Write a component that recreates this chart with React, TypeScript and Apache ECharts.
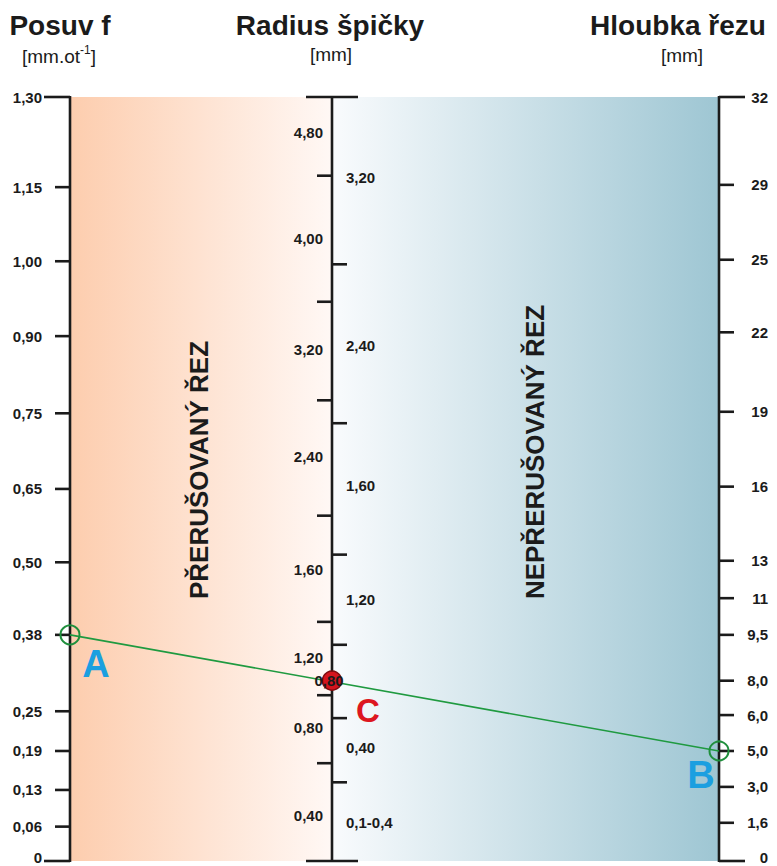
import React, { useEffect, useRef } from "react";
import * as echarts from "echarts";

// ---- Nomogram scales (position = % of axis height from bottom) ----
const LEFT_LABELS = ["1,30", "1,15", "1,00", "0,90", "0,75", "0,65", "0,50", "0,38", "0,25", "0,19", "0,13", "0,06", "0"];
const LEFT_POS = [100, 88.2, 78.5, 68.7, 58.6, 48.7, 39.1, 29.6, 19.6, 14.4, 9.3, 4.5, 0];

const MID_L_LABELS = ["4,80", "4,00", "3,20", "2,40", "1,60", "1,20", "0,80", "0,40"];
const MID_L_LABEL_POS = [95.3, 81.5, 66.9, 53.0, 38.1, 26.6, 17.5, 6.0];
const MID_L_TICK_POS = [89.7, 73.2, 60.3, 45.2, 31.3, 21.7, 12.8];

const MID_R_LABELS = ["3,20", "2,40", "1,60", "1,20", "0,80", "0,40", "0,1-0,4"];
const MID_R_LABEL_POS = [89.5, 67.5, 49.1, 34.2, 23.6, 14.8, 5.1];
const MID_R_TICK_POS = [78.1, 57.3, 40.1, 28.3, 18.7, 10.3];

const RIGHT_LABELS = ["32", "29", "25", "22", "19", "16", "13", "11", "9,5", "8,0", "6,0", "5,0", "3,0", "1,6", "0"];
const RIGHT_POS = [100, 88.5, 78.7, 69.2, 58.8, 49.0, 39.3, 34.4, 29.6, 23.6, 19.1, 14.4, 9.7, 5.0, 0];

// Selected example
const SEL_FEED = "0,38"; // A
const SEL_DEPTH = "5,0"; // B
const SEL_RADIUS = "0,80"; // C (right side of middle scale)

const TITLES = ["Posuv f", "Radius špičky", "Hloubka řezu"];
const REGION_LEFT = "PŘERUŠOVANÝ ŘEZ";
const REGION_RIGHT = "NEPŘERUŠOVANÝ ŘEZ";

// axis x-positions on the hidden 0..1 x scale
const AX_L = 0;
const AX_M = 262 / 649;
const AX_R = 1;

const FONT = "'Liberation Sans', Arial, sans-serif";
const INK = "#1b1b1b";

export default function App() {
  const ref = useRef<HTMLDivElement>(null);

  useEffect(() => {
    if (!ref.current) return;
    const chart = echarts.init(ref.current, undefined, { renderer: "svg" });

    const posA = LEFT_POS[LEFT_LABELS.indexOf(SEL_FEED)];
    const posB = RIGHT_POS[RIGHT_LABELS.indexOf(SEL_DEPTH)];
    const posC = MID_R_LABEL_POS[MID_R_LABELS.indexOf(SEL_RADIUS)];

    // ticks: [x, pos, side(-1 left, 1 right, 0 both), long]
    const ticks: number[][] = [];
    LEFT_POS.forEach((p, i) => ticks.push([AX_L, p, -1, i === 0 || i === LEFT_POS.length - 1 ? 1 : 0]));
    MID_L_TICK_POS.forEach((p) => ticks.push([AX_M, p, -1, 0]));
    MID_R_TICK_POS.forEach((p) => ticks.push([AX_M, p, 1, 0]));
    ticks.push([AX_M, 100, 0, 1]);
    ticks.push([AX_M, 0, 0, 1]);
    RIGHT_POS.forEach((p, i) => ticks.push([AX_R, p, 1, i === 0 || i === RIGHT_POS.length - 1 ? 1 : 0]));

    type Lab = { x: number; pos: number; text: string; mode: string };
    const labels: Lab[] = [];
    LEFT_LABELS.forEach((t, i) => labels.push({ x: AX_L, pos: LEFT_POS[i], text: t, mode: "L" }));
    MID_L_LABELS.forEach((t, i) => labels.push({ x: AX_M, pos: MID_L_LABEL_POS[i], text: t, mode: "ML" }));
    MID_R_LABELS.forEach((t, i) =>
      labels.push({ x: AX_M, pos: MID_R_LABEL_POS[i], text: t, mode: t === SEL_RADIUS ? "C" : "MR" })
    );
    RIGHT_LABELS.forEach((t, i) => labels.push({ x: AX_R, pos: RIGHT_POS[i], text: t, mode: "R" }));

    const letters = [
      { name: "A", x: AX_L, pos: posA, dx: 26, dy: 29, color: "#1b9fe0", size: 38 },
      { name: "C", x: AX_M, pos: posC, dx: 36, dy: 30, color: "#dd1620", size: 33 },
      { name: "B", x: AX_R, pos: posB, dx: -18, dy: 24, color: "#1b9fe0", size: 38 },
    ];

    const bandGrad = [
      new echarts.graphic.LinearGradient(0, 0, 1, 0, [
        { offset: 0, color: "#fdcdae" },
        { offset: 1, color: "#fff8f5" },
      ]),
      new echarts.graphic.LinearGradient(0, 0, 1, 0, [
        { offset: 0, color: "#f9fbfd" },
        { offset: 1, color: "#9ec6d3" },
      ]),
    ];

    const option: any = {
      animation: false,
      grid: { left: 70, right: 58, top: 97, bottom: 5, containLabel: false },
      xAxis: { type: "value", min: 0, max: 1, show: false },
      yAxis: { type: "value", min: 0, max: 100, show: false },
      graphic: [
        { type: "text", x: 60, y: 25, style: { text: TITLES[0], font: `bold 28px ${FONT}`, fill: INK, align: "center", verticalAlign: "middle" } },
        {
          type: "text",
          x: 59,
          y: 56,
          style: {
            text: "[mm.ot{sup|-1}]",
            font: `19px ${FONT}`,
            fill: INK,
            align: "center",
            verticalAlign: "middle",
            rich: { sup: { fontSize: 12, fontFamily: "Liberation Sans", fill: INK, verticalAlign: "top", lineHeight: 24 } },
          },
        },
        { type: "text", x: 330, y: 25, style: { text: TITLES[1], font: `bold 28px ${FONT}`, fill: INK, align: "center", verticalAlign: "middle" } },
        { type: "text", x: 331, y: 54, style: { text: "[mm]", font: `19px ${FONT}`, fill: INK, align: "center", verticalAlign: "middle" } },
        { type: "text", x: 678, y: 25, style: { text: TITLES[2], font: `bold 28px ${FONT}`, fill: INK, align: "center", verticalAlign: "middle" } },
        { type: "text", x: 682, y: 55, style: { text: "[mm]", font: `19px ${FONT}`, fill: INK, align: "center", verticalAlign: "middle" } },
        {
          type: "text",
          x: 199,
          y: 470,
          rotation: Math.PI / 2,
          z: 10,
          style: { text: REGION_LEFT, font: `bold 26px ${FONT}`, fill: INK, align: "center", verticalAlign: "middle" },
        },
        {
          type: "text",
          x: 535,
          y: 452,
          rotation: Math.PI / 2,
          z: 10,
          style: { text: REGION_RIGHT, font: `bold 26px ${FONT}`, fill: INK, align: "center", verticalAlign: "middle" },
        },
      ],
      series: [
        {
          type: "custom",
          z: 0,
          silent: true,
          data: [
            [AX_L, AX_M],
            [AX_M, AX_R],
          ],
          renderItem: (params: any, api: any) => {
            const p0 = api.coord([api.value(0), 100]);
            const p1 = api.coord([api.value(1), 0]);
            return {
              type: "rect",
              shape: { x: p0[0], y: p0[1], width: p1[0] - p0[0], height: p1[1] - p0[1] },
              style: { fill: bandGrad[params.dataIndex] },
            };
          },
        },
        {
          type: "custom",
          z: 2,
          silent: true,
          data: [[AX_L], [AX_M], [AX_R]],
          renderItem: (params: any, api: any) => {
            const top = api.coord([api.value(0), 100]);
            const bot = api.coord([api.value(0), 0]);
            return {
              type: "line",
              shape: { x1: top[0], y1: top[1] - 1, x2: bot[0], y2: bot[1] + 1 },
              style: { stroke: INK, lineWidth: 2.6 },
            };
          },
        },
        {
          type: "custom",
          z: 2,
          silent: true,
          data: ticks,
          renderItem: (params: any, api: any) => {
            const pt = api.coord([api.value(0), api.value(1)]);
            const side = api.value(2);
            const len = api.value(3) ? 26 : 15;
            const x1 = side > 0 ? pt[0] : pt[0] - len;
            const x2 = side < 0 ? pt[0] : pt[0] + len;
            return {
              type: "line",
              shape: { x1, y1: pt[1], x2, y2: pt[1] },
              style: { stroke: INK, lineWidth: 2.6 },
            };
          },
        },
        {
          type: "line",
          z: 3,
          data: [
            [AX_L, posA],
            [AX_R, posB],
          ],
          symbol: "circle",
          symbolSize: 19,
          lineStyle: { color: "#1f9a40", width: 1.6 },
          itemStyle: { color: "rgba(0,0,0,0)", borderColor: "#1f8f3c", borderWidth: 2 },
        },
        {
          type: "scatter",
          z: 4,
          data: [[AX_M, posC]],
          symbol: "circle",
          symbolSize: 19,
          itemStyle: { color: "#d5141d", borderColor: "#7d0a0e", borderWidth: 1.5, opacity: 1 },
        },
        {
          type: "custom",
          z: 5,
          silent: true,
          data: labels.map((l) => [l.x, l.pos]),
          renderItem: (params: any, api: any) => {
            const l = labels[params.dataIndex];
            const pt = api.coord([api.value(0), api.value(1)]);
            let x = pt[0];
            let align = "center";
            if (l.mode === "L") { x -= 28; align = "right"; }
            else if (l.mode === "ML") { x -= 9; align = "right"; }
            else if (l.mode === "MR") { x += 14; align = "left"; }
            else if (l.mode === "R") { x += 49; align = "right"; }
            else { x -= 3; }
            // keep the bottom-most labels inside the page
            const y = Math.min(pt[1], 857);
            return {
              type: "text",
              x,
              y,
              style: { text: l.text, font: `bold 15px ${FONT}`, fill: INK, align, verticalAlign: "middle" },
            };
          },
        },
        {
          type: "custom",
          z: 6,
          silent: true,
          data: letters.map((l) => [l.x, l.pos]),
          renderItem: (params: any, api: any) => {
            const l = letters[params.dataIndex];
            const pt = api.coord([api.value(0), api.value(1)]);
            return {
              type: "text",
              x: pt[0] + l.dx,
              y: pt[1] + l.dy,
              style: { text: l.name, font: `bold ${l.size}px ${FONT}`, fill: l.color, align: "center", verticalAlign: "middle" },
            };
          },
        },
      ],
    };

    chart.setOption(option);
    return () => chart.dispose();
  }, []);

  return (
    <div
      ref={ref}
      style={{ position: "fixed", left: 0, top: 0, width: 777, height: 866, background: "#ffffff" }}
    />
  );
}
